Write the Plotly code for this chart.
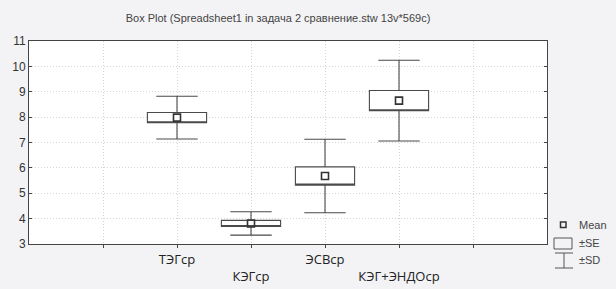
import plotly.graph_objects as go

categories = ["ТЭГср", "КЭГср", "ЭСВср", "КЭГ+ЭНДОср"]
positions = [2, 3, 4, 5]
means = [7.98, 3.81, 5.68, 8.65]
se = [0.20, 0.12, 0.36, 0.40]
sd = [0.84, 0.46, 1.45, 1.59]
tick_vals = [1, 2, 3, 4, 5, 6]
tick_text = ["", "ТЭГср", "<br>КЭГср", "ЭСВср", "<br>КЭГ+ЭНДОср", ""]

W, H = 616, 289
L, R, T, B = 29, 547, 41, 244

q1 = [m - s for m, s in zip(means, se)]
q3 = [m + s for m, s in zip(means, se)]
lo = [m - s for m, s in zip(means, sd)]
hi = [m + s for m, s in zip(means, sd)]

line_col = "#4a4a4a"
fig = go.Figure()
fig.add_trace(go.Box(
    x=positions, q1=q1, median=q1, q3=q3, lowerfence=lo, upperfence=hi,
    width=0.8, whiskerwidth=0.7, fillcolor="white",
    line=dict(color=line_col, width=1.1), boxpoints=False, showlegend=False,
    hoverinfo="skip"))
fig.add_trace(go.Scatter(
    x=positions, y=means, mode="markers", showlegend=False, hoverinfo="skip",
    marker=dict(symbol="square-open", size=7, color="#333", line=dict(width=1.6))))

def px(x):
    return (x - L) / (R - L)

def py(y):
    return (B - y) / (B - T)

shapes = []
# legend symbols
shapes.append(dict(type="rect", xref="paper", yref="paper", x0=px(560.5), x1=px(566), y0=py(222), y1=py(227.5),
                   line=dict(color="#333", width=1.5)))
shapes.append(dict(type="rect", xref="paper", yref="paper", x0=px(554), x1=px(572), y0=py(238), y1=py(249),
                   line=dict(color="#555", width=1), fillcolor="#f3f3f5"))
for y0 in (253, 268):
    shapes.append(dict(type="line", xref="paper", yref="paper", x0=px(555), x1=px(573), y0=py(y0), y1=py(y0),
                       line=dict(color="#555", width=1)))
shapes.append(dict(type="line", xref="paper", yref="paper", x0=px(564), x1=px(564), y0=py(253), y1=py(268),
                   line=dict(color="#555", width=1)))

annotations = []
for txt, y in (("Mean", 225), ("±SE", 243), ("±SD", 260)):
    annotations.append(dict(text=txt, xref="paper", yref="paper", x=px(577), y=py(y), xanchor="left",
                            yanchor="middle", showarrow=False,
                            font=dict(family="Liberation Sans", size=11, color="#444")))

fig.update_layout(
    width=W, height=H,
    margin=dict(l=L, r=W - R, t=T, b=H - B, pad=0, autoexpand=False),
    paper_bgcolor="#f3f3f5", plot_bgcolor="white",
    title=dict(text="Box Plot (Spreadsheet1 in задача 2 сравнение.stw 13v*569c)",
               x=278 / W, xanchor="center", y=1 - 18 / H, yanchor="middle", yref="container",
               font=dict(family="Liberation Sans", size=11, color="#444")),
    shapes=shapes, annotations=annotations,
    xaxis=dict(range=[0, 7], tickvals=tick_vals, ticktext=tick_text, automargin=False,
               showgrid=True, gridcolor="#d6d6d6", griddash="1px,2px", gridwidth=1,
               zeroline=False, showline=True, linecolor="#444", linewidth=1, mirror=True,
               ticks="outside", ticklen=3, tickcolor="#444",
               tickfont=dict(family="Open Sans", size=13, color="#222")),
    yaxis=dict(range=[3, 11], dtick=1, tick0=3, automargin=False,
               showgrid=True, gridcolor="#d6d6d6", griddash="1px,2px", gridwidth=1,
               zeroline=False, showline=True, linecolor="#444", linewidth=1, mirror="ticks",
               ticks="inside", ticklen=3, tickcolor="#444",
               tickfont=dict(family="Liberation Sans", size=12, color="#333")),
)

fig.write_html("out.html", config={"displayModeBar": False},
               post_script="document.body.style.margin='0';document.body.style.overflow='hidden';")
